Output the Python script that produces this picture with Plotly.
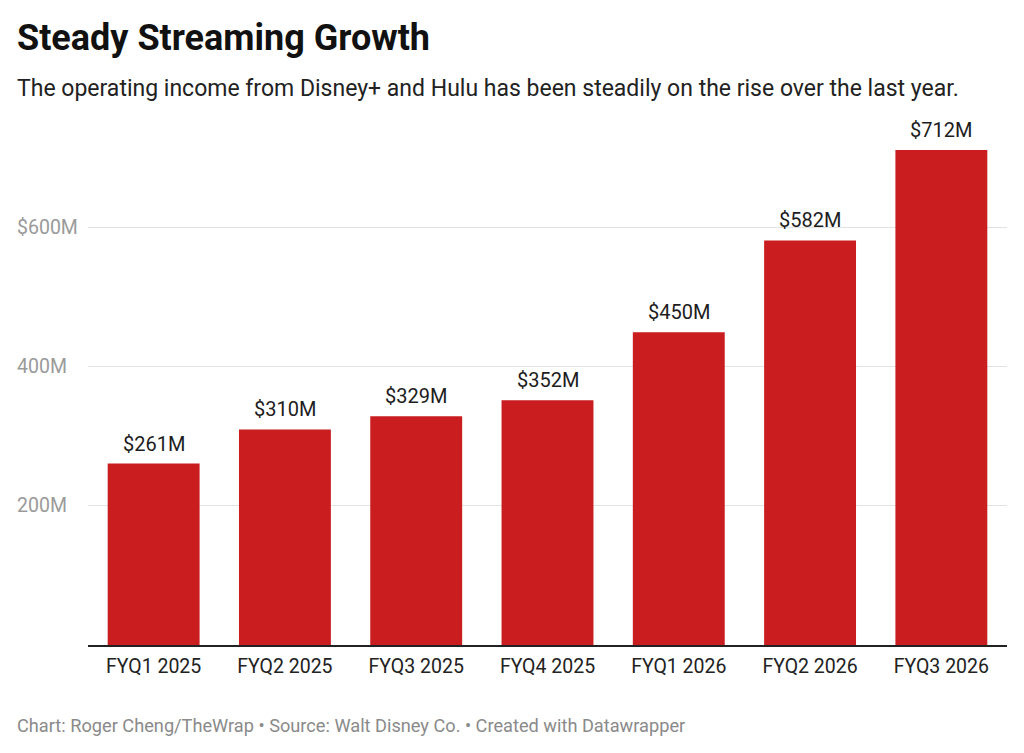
import plotly.graph_objects as go

quarters = ["FYQ1 2025", "FYQ2 2025", "FYQ3 2025", "FYQ4 2025",
            "FYQ1 2026", "FYQ2 2026", "FYQ3 2026"]
income = [261, 310, 329, 352, 450, 582, 712]  # operating income, $M
y_ticks = [200, 400, 600]
y_tick_labels = ["200M", "400M", "$600M"]

FONT = "Roboto"
RED = "#c91d1f"
LEFT = -73  # shift from plot edge to page text column

fig = go.Figure(go.Bar(
    x=quarters,
    y=income,
    marker=dict(color=RED, line=dict(width=0)),
    hoverinfo="skip",
))

ann = []
# value labels above bars
for q, v in zip(quarters, income):
    ann.append(dict(x=q, y=v, xref="x", yref="y", text=f"${v}M",
                    showarrow=False, yanchor="bottom", yshift=6,
                    font=dict(family=FONT, size=20, color="#1d1d1d")))
# left aligned y tick labels (datawrapper style)
for t, lab in zip(y_ticks, y_tick_labels):
    ann.append(dict(x=0, y=t, xref="paper", yref="y", text=lab,
                    showarrow=False, xanchor="left", yanchor="middle",
                    xshift=LEFT, font=dict(family=FONT, size=19.5, color="#9a9a9a")))

# titles and footer
ann += [
    dict(text="<b>Steady Streaming Growth</b>", x=0, y=1, xref="paper", yref="paper",
         showarrow=False, xanchor="left", yanchor="middle", xshift=LEFT, yshift=150 - 38,
         font=dict(family=FONT, size=36, color="#111")),
    dict(text="The operating income from Disney+ and Hulu has been steadily on the rise over the last year.",
         x=0, y=1, xref="paper", yref="paper",
         showarrow=False, xanchor="left", yanchor="middle", xshift=LEFT, yshift=150 - 88,
         font=dict(family=FONT, size=23, color="#222")),
    dict(text="Chart: Roger Cheng/TheWrap • Source: Walt Disney Co. • Created with Datawrapper",
         x=0, y=0, xref="paper", yref="paper",
         showarrow=False, xanchor="left", yanchor="middle", xshift=LEFT, yshift=-(725 - 645),
         font=dict(family=FONT, size=18.2, color="#8a8a8a")),
]

fig.update_layout(
    width=1024, height=753,
    margin=dict(l=80, r=25, t=142, b=116),
    paper_bgcolor="white", plot_bgcolor="white",
    bargap=0.30,
    showlegend=False,
    annotations=ann,
    xaxis=dict(
        showgrid=False, showline=True, linecolor="#222", linewidth=1.5,
        ticks="outside", ticklen=3, tickcolor="rgba(0,0,0,0)",
        tickfont=dict(family=FONT, size=19.5, color="#222"),
        fixedrange=True,
    ),
    yaxis=dict(
        range=[0, 712], tickvals=y_ticks, showticklabels=False,
        showgrid=True, gridcolor="#e2e2e2", gridwidth=1,
        zeroline=False, fixedrange=True,
    ),
)

fig.write_html("out.html")
